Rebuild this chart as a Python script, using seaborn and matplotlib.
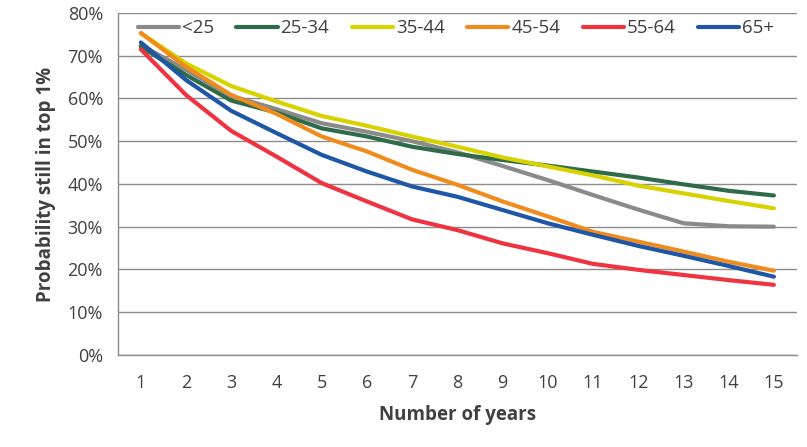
import pandas as pd
import seaborn as sns
import matplotlib.pyplot as plt
from matplotlib.ticker import PercentFormatter

# values (percent)
years = list(range(1, 16))
age_groups = ["<25", "25-34", "35-44", "45-54", "55-64", "65+"]
under_25 = [72.5, 66.7, 60.6, 57.5, 54.2, 52.2, 50.0, 47.4, 44.2, 40.9, 37.4, 34.0, 30.8, 30.1, 30.0]
age_25_34 = [72.1, 65.5, 59.5, 56.7, 53.0, 51.1, 48.7, 47.0, 45.6, 44.3, 42.9, 41.5, 39.9, 38.4, 37.3]
age_35_44 = [75.3, 68.2, 62.9, 59.3, 55.9, 53.6, 51.1, 48.7, 46.2, 44.1, 42.0, 39.6, 37.8, 36.0, 34.3]
age_45_54 = [75.3, 67.4, 60.8, 56.4, 51.1, 47.6, 43.3, 39.8, 35.9, 32.4, 28.8, 26.5, 24.2, 21.8, 19.7]
age_55_64 = [71.5, 60.8, 52.4, 46.4, 40.2, 35.9, 31.7, 29.2, 26.1, 23.8, 21.3, 19.9, 18.7, 17.5, 16.4]
age_65_plus = [73.1, 64.3, 57.1, 51.9, 46.8, 42.9, 39.4, 37.0, 33.9, 30.8, 28.1, 25.5, 23.2, 20.8, 18.3]
colors = ["#8a8a8a", "#2f6b4a", "#d8d200", "#f08c1e", "#ef3340", "#1d57a5"]

series = [under_25, age_25_34, age_35_44, age_45_54, age_55_64, age_65_plus]
df = pd.concat(
    [pd.DataFrame({"year": years, "value": vals, "age": grp}) for grp, vals in zip(age_groups, series)],
    ignore_index=True,
)

sns.set_theme(style="white")
plt.rcParams["font.family"] = ["Open Sans", "DejaVu Sans"]

GRID = "#8c8c8c"
TXT = "#404040"

fig = plt.figure(figsize=(8.07, 4.47), dpi=100)
ax = fig.add_axes([0.1465, 0.206, 0.8405, 0.765])

sns.lineplot(data=df, x="year", y="value", hue="age", hue_order=age_groups,
             palette=colors, linewidth=3, ax=ax, legend=True)

ax.set_xlim(0.5, 15.5)
ax.set_ylim(0, 80)
ax.set_yticks(range(0, 81, 10))
ax.yaxis.set_major_formatter(PercentFormatter(decimals=0))
ax.set_xticks(years)
ax.set_xticks([y + 0.5 for y in range(0, 16)], minor=True)
ax.grid(axis="y", color=GRID, linewidth=1)
ax.set_axisbelow(True)

for s in ["top", "right"]:
    ax.spines[s].set_visible(False)
for s in ["left", "bottom"]:
    ax.spines[s].set_color(GRID)
    ax.spines[s].set_linewidth(1)

ax.tick_params(axis="y", which="major", length=7, width=1, color=GRID, labelsize=13, labelcolor=TXT, pad=4)
ax.tick_params(axis="x", which="major", length=0, labelsize=13, labelcolor=TXT, pad=14)
ax.tick_params(axis="x", which="minor", length=6, width=1, color=GRID)

ax.set_xlabel("Number of years", fontsize=13.5, fontweight="bold", color=TXT, labelpad=9)
ax.set_ylabel("Probability still in top 1%", fontsize=13.5, fontweight="bold", color=TXT, labelpad=8)

ax.legend(loc="center", bbox_to_anchor=(0.498, 0.955), ncol=6, frameon=False,
          fontsize=13.5, handlelength=2.2, handletextpad=0.15, columnspacing=1.2,
          labelcolor=TXT)

fig.savefig("out.png", dpi=100)
